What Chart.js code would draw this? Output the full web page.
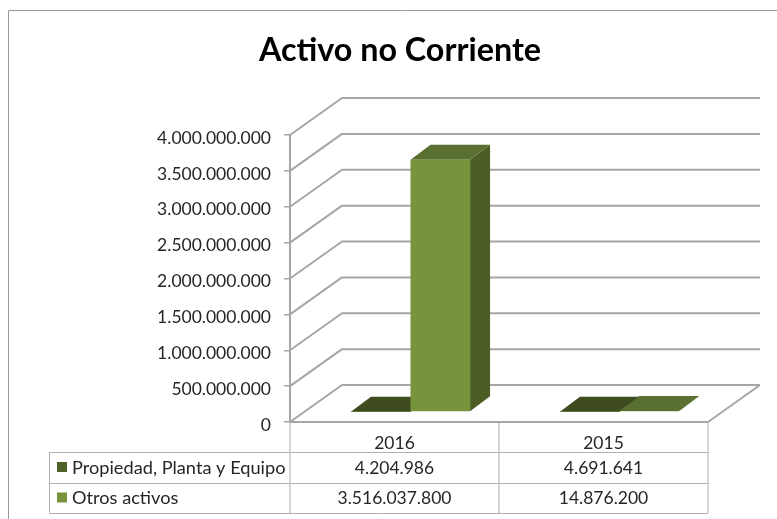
<!DOCTYPE html>
<html>
<head>
<meta charset="utf-8">
<title>Activo no Corriente</title>
<script src="https://cdn.jsdelivr.net/npm/chart.js@4"></script>
<style>
  html, body { margin: 0; padding: 0; background: #fff; overflow: hidden; width: 777px; height: 519px; }
  canvas { display: block; }
</style>
</head>
<body>
<canvas id="chart" width="800" height="519"></canvas>
<script>
const categories = ['2016', '2015'];
const seriesNames = ['Propiedad, Planta y Equipo', 'Otros activos'];
const propiedad = [4204986, 4691641];
const otros = [3516037800, 14876200];
const yTicks = [0, 500000000, 1000000000, 1500000000, 2000000000, 2500000000, 3000000000, 3500000000, 4000000000];

const FONT = 'Lato, sans-serif';
const TEXT = '#262626';
const GRID = '#a6a6a6';
const TABLE_H = '#b0b0b0';
const TABLE_V = '#c6c6c6';

// wall depth and how far the bars sit in from the front of the floor
const WALL = { dx: 52, dy: -37 };
const BAR_IN = { dx: 16, dy: -10 };
const BAR_DEPTH = { dx: 20, dy: -15 };

const faces = [
  { front: '#4f6228', top: '#3e4c1f', side: '#3a4720' },
  { front: '#77933c', top: '#5a7030', side: '#4c5d26' },
];

const fmt = v => String(v).replace(/\B(?=(\d{3})+$)/g, '.');

function poly(ctx, pts, fill) {
  ctx.beginPath();
  pts.forEach((p, i) => i ? ctx.lineTo(p[0], p[1]) : ctx.moveTo(p[0], p[1]));
  ctx.closePath();
  ctx.fillStyle = fill;
  ctx.fill();
}

const walls = {
  id: 'walls',
  beforeDatasetsDraw(chart) {
    const { ctx, chartArea: a, scales: { y } } = chart;
    ctx.save();
    ctx.strokeStyle = GRID;
    ctx.lineWidth = 2;
    ctx.lineJoin = 'round';
    yTicks.forEach(v => {
      const py = y.getPixelForValue(v);
      ctx.beginPath();
      ctx.moveTo(a.left, py);
      ctx.lineTo(a.left + WALL.dx, py + WALL.dy);
      ctx.lineTo(a.right + WALL.dx, py + WALL.dy);
      ctx.stroke();
    });
    // right edge of the floor
    ctx.beginPath();
    ctx.moveTo(a.right, a.bottom);
    ctx.lineTo(a.right + WALL.dx, a.bottom + WALL.dy);
    ctx.stroke();
    ctx.restore();
  },
};

// bars come out of the library as the front face, the depth is added round them
const bars3d = {
  id: 'bars3d',
  beforeDatasetsDraw(chart) {
    const { ctx } = chart;
    chart.getSortedVisibleDatasetMetas().forEach(meta => {
      const c = faces[meta.index];
      ctx.save();
      ctx.translate(BAR_IN.dx, BAR_IN.dy);
      meta.data.forEach(el => {
        const { x, y, base, width } = el.getProps(['x', 'y', 'base', 'width'], true);
        const l = x - width / 2, r = x + width / 2;
        const d = BAR_DEPTH;
        poly(ctx, [[r, y], [r + d.dx, y + d.dy], [r + d.dx, base + d.dy], [r, base]], c.side);
        poly(ctx, [[l, y], [l + d.dx, y + d.dy], [r + d.dx, y + d.dy], [r, y]], c.top);
      });
      meta.controller.draw();
      ctx.restore();
    });
    return false;
  },
};

const dataTable = {
  id: 'dataTable',
  afterDraw(chart) {
    const { ctx, chartArea: a, scales: { x } } = chart;
    const rows = [a.bottom + 30, a.bottom + 61, a.bottom + 91];
    const tableLeft = 49.5;
    const mid = (a.left + a.right) / 2;
    const series = [propiedad, otros];
    ctx.save();
    const line = (x1, y1, x2, y2) => {
      ctx.beginPath();
      ctx.moveTo(x1, y1);
      ctx.lineTo(x2, y2);
      ctx.stroke();
    };
    ctx.lineWidth = 1;
    ctx.strokeStyle = TABLE_H;
    rows.forEach(r => line(tableLeft, r + 0.5, a.right, r + 0.5));
    line(tableLeft, rows[0], tableLeft, rows[2]);
    ctx.strokeStyle = TABLE_V;
    ctx.lineWidth = 1.5;
    line(a.left, a.bottom, a.left, rows[2]);
    line(mid, a.bottom, mid, rows[2]);
    line(a.right, a.bottom, a.right, rows[2]);

    // front edge of the floor and the value axis
    ctx.strokeStyle = GRID;
    ctx.lineWidth = 2;
    line(a.left, a.bottom, a.right, a.bottom);
    line(a.left, a.top, a.left, a.bottom);

    ctx.fillStyle = TEXT;
    ctx.textBaseline = 'middle';
    series.forEach((vals, i) => {
      const cy = (rows[i] + rows[i + 1]) / 2 + 0.5;
      ctx.fillStyle = faces[i].front;
      ctx.fillRect(57, cy - 6, 10, 10);
      ctx.fillStyle = TEXT;
      ctx.textAlign = 'left';
      ctx.font = '18.2px ' + FONT;
      ctx.fillText(seriesNames[i], 72, cy);
      ctx.textAlign = 'center';
      ctx.font = '17.5px ' + FONT;
      vals.forEach((v, j) => ctx.fillText(fmt(v), x.getPixelForValue(j), cy));
    });
    // chart frame, cut off by the right edge of the picture
    ctx.strokeStyle = '#9a9a9a';
    ctx.lineWidth = 1;
    line(8.5, 10.5, 800, 10.5);
    line(8.5, 10.5, 8.5, 519);
    ctx.restore();
  },
};

new Chart(document.getElementById('chart'), {
  type: 'bar',
  data: {
    labels: categories,
    datasets: [
      { label: seriesNames[0], data: propiedad, backgroundColor: faces[0].front },
      { label: seriesNames[1], data: otros, backgroundColor: faces[1].front },
    ],
  },
  options: {
    responsive: false,
    animation: false,
    categoryPercentage: 0.57,
    barPercentage: 1,
    plugins: {
      legend: { display: false },
      tooltip: { enabled: false },
      title: {
        display: true,
        text: 'Activo no Corriente',
        color: '#000',
        font: { family: FONT, size: 32.3, weight: 'bold', lineHeight: 1.2 },
        padding: { top: 31, bottom: 65.24 },
      },
    },
    scales: {
      x: {
        afterFit: s => { s.height = 97; },
        grid: { display: false },
        border: { display: false },
        ticks: { color: TEXT, font: { family: FONT, size: 17.5 }, padding: 3, maxRotation: 0 },
      },
      y: {
        min: 0,
        max: 4000000000,
        afterFit: s => { s.width = 290; },
        afterBuildTicks: s => { s.ticks = yTicks.map(value => ({ value })); },
        grid: { drawOnChartArea: false, color: GRID, tickLength: 6, lineWidth: 1.5 },
        border: { display: false },
        ticks: { color: TEXT, font: { family: FONT, size: 17.5 }, padding: 13, labelOffset: 3, callback: v => fmt(v) },
      },
      // empty axis: keeps the room right of the floor for the back wall
      wallRoom: {
        axis: 'y',
        position: 'right',
        afterFit: s => { s.width = 92; },
        grid: { display: false },
        border: { display: false },
        ticks: { display: false },
      },
    },
  },
  plugins: [walls, bars3d, dataTable],
});
</script>
</body>
</html>
